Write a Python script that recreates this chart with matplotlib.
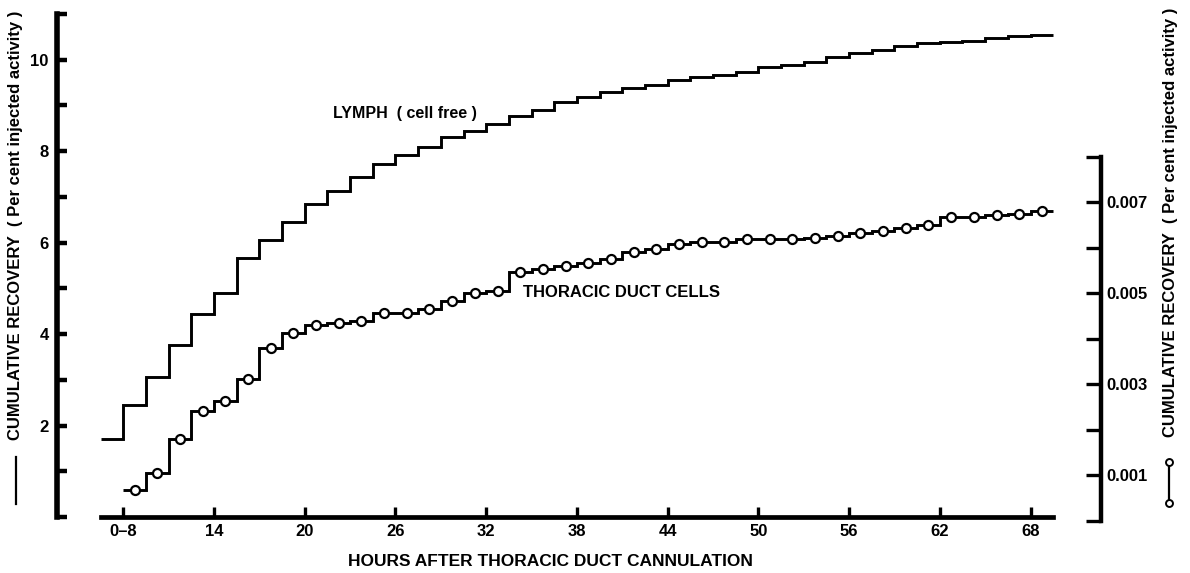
import numpy as np
import matplotlib
matplotlib.use("Agg")
import matplotlib.pyplot as plt
from matplotlib.lines import Line2D

plt.rcParams['font.family'] = ['Liberation Sans', 'DejaVu Sans']
plt.rcParams['font.weight'] = 'bold'

# ---- data ----
# collections every 1.5 h from 8 h on; the first lymph step is the 0-8 h pool
interval_h = 1.5
first_edge = 8.0
n_int = 41
lymph_pre = 1.71          # 0-8 h collection, drawn from 6.5 h
lymph_pre_start = 6.5

# cumulative recovery, lymph (cell free), per cent injected activity (left axis)
lymph = [2.46, 3.07, 3.76, 4.43, 4.89, 5.67, 6.05, 6.45, 6.85, 7.14,
         7.43, 7.71, 7.92, 8.09, 8.30, 8.45, 8.59, 8.77, 8.91, 9.08,
         9.18, 9.29, 9.38, 9.45, 9.55, 9.62, 9.67, 9.74, 9.84, 9.89,
         9.96, 10.07, 10.14, 10.22, 10.29, 10.36, 10.38, 10.42, 10.48, 10.51,
         10.55]

# cumulative recovery, thoracic duct cells (right axis, in units of 0.001 %)
cells_milli = [0.66, 1.04, 1.79, 2.41, 2.63, 3.12, 3.80, 4.11, 4.29, 4.33,
               4.38, 4.55, 4.57, 4.64, 4.83, 5.00, 5.05, 5.47, 5.52, 5.59,
               5.67, 5.75, 5.91, 5.97, 6.08, 6.11, 6.12, 6.18, 6.18, 6.19,
               6.21, 6.26, 6.32, 6.37, 6.43, 6.49, 6.67, 6.67, 6.72, 6.74,
               6.80]

xticks = [8, 14, 20, 26, 32, 38, 44, 50, 56, 62, 68]
xticklabels = ['0\u20138', '14', '20', '26', '32', '38', '44', '50', '56', '62', '68']
left_major = [2, 4, 6, 8, 10]
left_minor = [0, 1, 3, 5, 7, 9, 11]
right_major = [0.001, 0.003, 0.005, 0.007]
right_minor = [0, 0.002, 0.004, 0.006, 0.008]

edges = first_edge + interval_h * np.arange(n_int + 1)
mids = (edges[:-1] + edges[1:]) / 2
cells = np.array(cells_milli) * 1e-3

# ---- figure ----
W, H = 1190, 573
fig = plt.figure(figsize=(W / 100, H / 100), dpi=100)

ax = fig.add_axes([57 / W, (H - 517) / H, (1101 - 57) / W, (517 - 14) / H])
ax.set_xlim(3.615, 72.66)
ax.set_ylim(0, 11)

ax2 = fig.add_axes([57 / W, (H - 520.5) / H, (1101 - 57) / W, (520.5 - 14) / H],
                   sharex=ax)
ax2.set_ylim(0, (520.5 - 14) / 45.5 * 1e-3)
ax2.patch.set_visible(False)

# lymph step curve
ax.stairs([lymph_pre] + lymph, np.concatenate([[lymph_pre_start], edges]),
          baseline=None, color='black', lw=2.1)

# thoracic duct cells step curve with open circles
ax2.stairs(cells, edges, baseline=None, color='black', lw=2.1, zorder=3)
ax2.plot(mids, cells, 'o', ms=6.5, mfc='white', mec='black', mew=1.6,
         zorder=4, clip_on=False)

# spines
for s in ['top', 'right']:
    ax.spines[s].set_visible(False)
ax.spines['left'].set_linewidth(4.0)
ax.spines['left'].set_bounds(0, 11)
ax.spines['bottom'].set_linewidth(3.4)
ax.spines['bottom'].set_bounds(6.5, 69.5)

for s in ['top', 'left', 'bottom']:
    ax2.spines[s].set_visible(False)
ax2.spines['right'].set_linewidth(3.2)
ax2.spines['right'].set_bounds(0, 0.008)

# ticks
ax.set_xticks(xticks)
ax.set_xticklabels(xticklabels)
ax.tick_params(axis='x', direction='in', length=7.5, width=2.4, pad=5,
               labelsize=12)
ax.set_yticks(left_major)
ax.set_yticks(left_minor, minor=True)
ax.set_yticklabels([str(v) for v in left_major])
ax.tick_params(axis='y', which='both', direction='in', length=7.5, width=3.2,
               pad=6, labelsize=12)

ax2.tick_params(axis='x', which='both', bottom=False, labelbottom=False)
ax2.yaxis.tick_right()
ax2.set_yticks(right_major)
ax2.set_yticks(right_minor, minor=True)
ax2.set_yticklabels(['0.001', '0.003', '0.005', '0.007'])
ax2.tick_params(axis='y', which='both', direction='in', length=11, width=2.4,
                pad=4, labelsize=12)

# curve labels
ax.text(21.9, 8.83, 'LYMPH  ( cell free )', fontsize=11.5, ha='left', va='center')
ax.text(34.45, 4.92, 'THORACIC DUCT CELLS', fontsize=12, ha='left', va='center')

# axis titles
fig.text(550 / W, (H - 562) / H, 'HOURS AFTER THORACIC DUCT CANNULATION',
         fontsize=12.5, ha='center', va='center')

ylab = 'CUMULATIVE RECOVERY  ( Per cent injected activity )'
fig.text(16 / W, (H - 440) / H, ylab, rotation=90, fontsize=12,
         ha='center', va='bottom')
fig.text(1170 / W, (H - 437) / H, ylab, rotation=90, fontsize=12,
         ha='center', va='bottom')

# series keys beside the axis titles
fig.add_artist(Line2D([16 / W, 16 / W], [(H - 504) / H, (H - 457) / H],
                      color='black', lw=1.6))
fig.add_artist(Line2D([1169 / W, 1169 / W], [(H - 503) / H, (H - 462) / H],
                      color='black', lw=1.6, marker='o', ms=5, mfc='white',
                      mec='black', mew=1.4))

fig.savefig('out.png', dpi=100)
